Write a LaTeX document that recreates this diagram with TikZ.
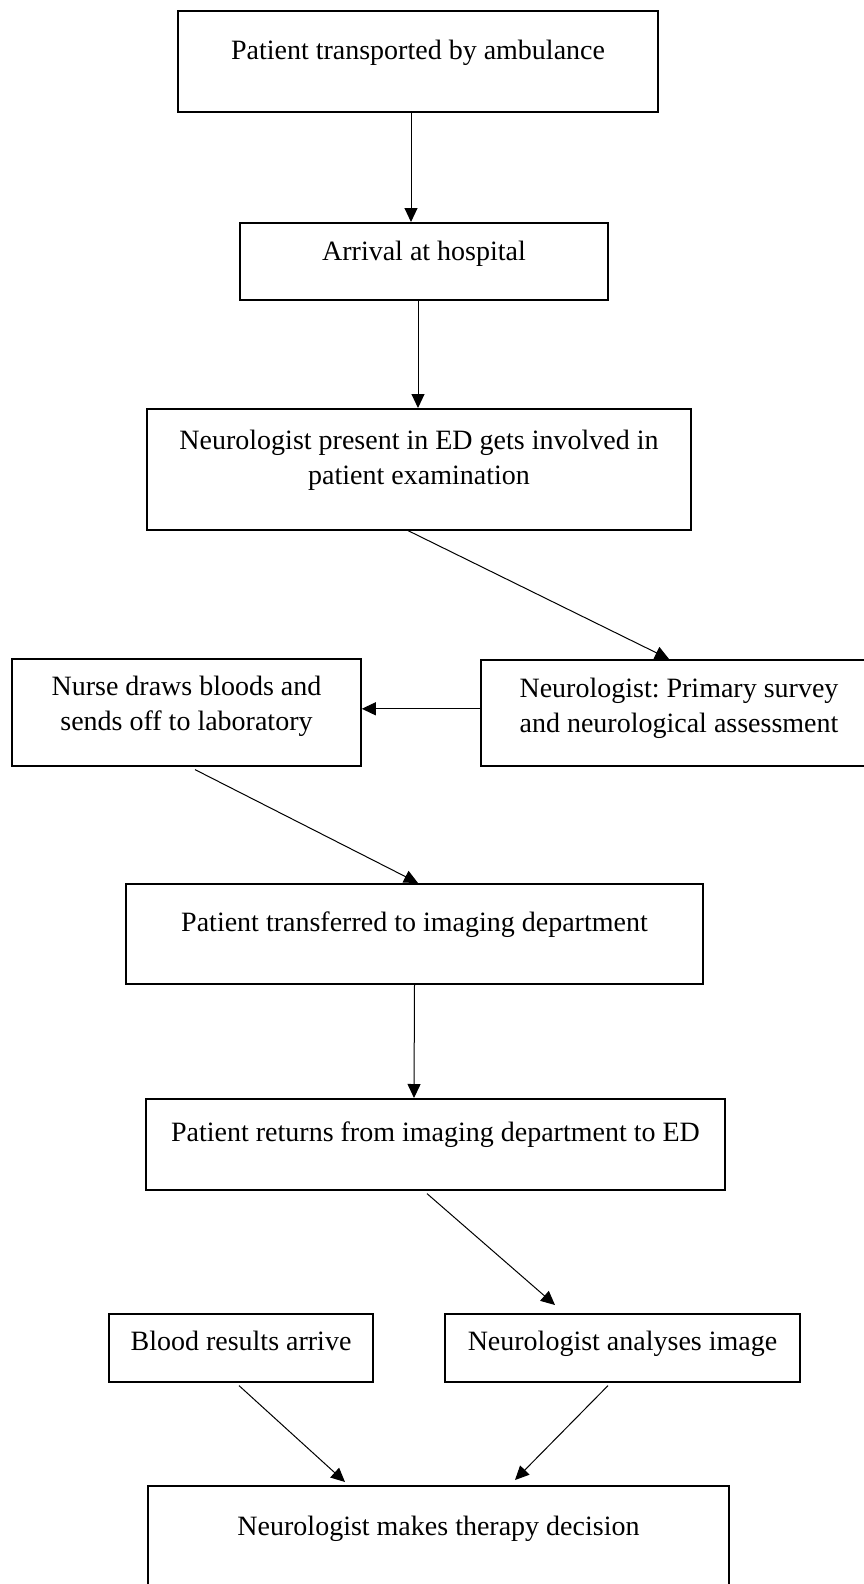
\documentclass[tikz,border=0pt]{standalone}
\usepackage{fontspec}
\setmainfont{Liberation Serif}
\usetikzlibrary{arrows.meta}
\frenchspacing
\tikzset{
  box/.style={draw, line width=1.6pt, anchor=north, align=center, inner ysep=0pt,
    font=\fontsize{28}{35.5}\selectfont},
}
\begin{document}
\begin{tikzpicture}[x=1pt, y=-1pt]
      \useasboundingbox (0,0) rectangle (864,1584);
      \draw
        (418,10.5) node[box, minimum width=480, text height=48.5, text depth=52.5] (ambulance) {Patient transported by ambulance}
        (424,222) node[box, minimum width=368, text height=38, text depth=39] (arrival) {Arrival at hospital}
        (419,408) node[box, minimum width=544, text height=76, text depth=45] (exam) {Neurologist present in ED gets involved in\\patient examination}
        (186.5,658) node[box, minimum width=349, text height=72, text depth=35] (nurse) {Nurse draws bloods and\\sends off to laboratory}
        (679,659) node[box, minimum width=396, text height=73, text depth=33] (survey) {Neurologist: Primary survey\\and neurological assessment}
        (414.5,883) node[box, minimum width=577, text height=47.5, text depth=52.5] (imaging) {Patient transferred to imaging department}
        (435.5,1098) node[box, minimum width=579, text height=43, text depth=48] (return) {Patient returns from imaging department to ED}
        (241,1313) node[box, minimum width=264, text height=37, text depth=31] (blood) {Blood results arrive}
        (622.5,1313) node[box, minimum width=355, text height=37, text depth=31] (analyse) {Neurologist analyses image}
        (438.5,1485) node[box, minimum width=581, text height=50, text depth=80] (decision) {Neurologist makes therapy decision};
      \begin{scope}[line width=1pt, -{Triangle[length=14pt,width=13pt]}]
        \draw ([xshift=-7pt]ambulance.south) to ([xshift=-13pt]arrival.north);
        \draw ([xshift=-6pt]arrival.south) to ([xshift=-1pt]exam.north);
        \draw ([xshift=-11pt]exam.south) to ([xshift=-10pt]survey.north);
        \draw ([yshift=4pt]survey.west) to ([yshift=3.5pt]nurse.east);
        \draw ([xshift=8.5pt,yshift=-3pt]nurse.south) to ([xshift=3.5pt]imaging.north);
        \draw (imaging.south) to ([xshift=-21.5pt]return.north);
        \draw ([xshift=-8.5pt,yshift=-3pt]return.south) to ([xshift=-67.5pt,yshift=8pt]analyse.north);
        \draw ([xshift=-2pt,yshift=-3pt]blood.south) to ([xshift=-93.5pt,yshift=3pt]decision.north);
        \draw ([xshift=-14.5pt,yshift=-3pt]analyse.south) to ([xshift=76.5pt,yshift=5pt]decision.north);
      \end{scope}
    \end{tikzpicture}
\end{document}
